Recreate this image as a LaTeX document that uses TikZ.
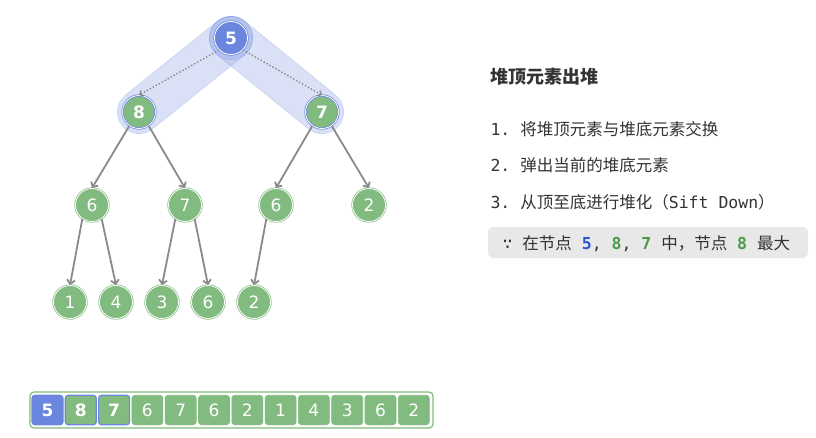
\documentclass[tikz,border=0pt]{standalone}
\usepackage{fontspec}
\setmainfont{DejaVu Sans}
\setmonofont{DejaVu Sans Mono}
\newfontfamily\cjk{Noto Sans CJK SC}
\usetikzlibrary{arrows.meta, backgrounds, math}

\definecolor{heapgreen}{HTML}{82BB7F}
\definecolor{heapblue}{HTML}{6A86DE}
\definecolor{edgegray}{HTML}{8A8A8A}
\definecolor{textgray}{HTML}{333333}
\definecolor{notegray}{HTML}{E8E8E8}
\definecolor{numblue}{HTML}{2F55D4}
\definecolor{numgreen}{HTML}{4E9A4B}

\begin{document}
\begin{tikzpicture}[x=1pt, y=-1pt,
  heap/.style={circle, minimum size=33pt, inner sep=0pt, fill=heapgreen, draw=heapgreen,
    double=white, double distance=0.8pt, line width=0.7pt, text=white,
    font=\fontsize{17}{17}\selectfont},
  picked/.style={heap, draw=heapblue, font=\fontsize{17}{17}\selectfont\bfseries},
  heaptop/.style={picked, fill=heapblue},
  link/.style={draw=edgegray, line width=1.8pt, -{Straight Barb[length=4pt, width=8pt]}},
  cell/.style={rounded corners=3pt, minimum width=31pt, minimum height=29.5pt, inner sep=0pt,
    fill=heapgreen, draw=heapgreen, line width=0.6pt, text=white, font=\fontsize{17}{17}\selectfont},
  cellpick/.style={cell, draw=heapblue, line width=1.2pt, font=\fontsize{17}{17}\selectfont\bfseries},
  celltop/.style={cellpick, fill=heapblue, draw=heapblue},
  band/.style={line width=44pt, line cap=round},
  say/.style={anchor=base west, text=textgray, font=\cjk\fontsize{16.5}{16.5}\selectfont}
]
\tikzmath{
\pitch = 33.3;
\xa = 47.5;
}
\useasboundingbox (0,0) rectangle (816,437);

% the heap as a tree
\node[heaptop] (n5) at (231,38) {5};
\node[picked] (n8) at (139,112) {8};
\node[picked] (n7) at (322,112) {7};
\node[heap] (a6) at (92,205) {6};
\node[heap] (b7) at (185,205) {7};
\node[heap] (c6) at (276,205) {6};
\node[heap] (d2) at (369,205) {2};
\node[heap] (e1) at (70,302) {1};
\node[heap] (f4) at (116,302) {4};
\node[heap] (g3) at (162,302) {3};
\node[heap] (h6) at (208,302) {6};
\node[heap] (i2) at (254,302) {2};

\begin{pgfonlayer}{background}
\begin{scope}[transparency group, opacity=0.34]
\draw[band, heapblue] (n5.center) -- (n8.center);
\draw[band, line width=42pt, heapblue!72!white] (n5.center) -- (n8.center);
\end{scope}
\begin{scope}[transparency group, opacity=0.34]
\draw[band, heapblue] (n5.center) -- (n7.center);
\draw[band, line width=42pt, heapblue!72!white] (n5.center) -- (n7.center);
\end{scope}
\begin{scope}[transparency group, opacity=0.3]
\fill[heapblue] (n5.center) circle (22pt);
\fill[heapblue!72!white] (n5.center) circle (21pt);
\end{scope}
\end{pgfonlayer}

\draw[edgegray, dotted, line width=1.4pt, -{Straight Barb[length=3pt, width=6pt]}] (n5.225) -- (n8.north);
\draw[edgegray, dotted, line width=1.4pt, -{Straight Barb[length=3pt, width=6pt]}] (n5.-45) -- (n7.north);

\draw[link] (n8.235) -- (a6.north);
\draw[link] (n8.-55) -- (b7.north);
\draw[link] (n7.235) -- (c6.north);
\draw[link] (n7.-55) -- (d2.north);
\draw[link] (a6.235) -- (e1.north);
\draw[link] (a6.-55) -- (f4.north);
\draw[link] (b7.235) -- (g3.north);
\draw[link] (b7.-55) -- (h6.north);
\draw[link] (c6.235) -- (i2.north);

% the heap as an array
\draw[heapgreen, line width=1.2pt, fill=white, rounded corners=4pt] (30,392) rectangle (433,428);
\foreach \v/\s [count=\i from 0] in {5/celltop, 8/cellpick, 7/cellpick, 6/cell, 7/cell, 6/cell,
    2/cell, 1/cell, 4/cell, 3/cell, 6/cell, 2/cell}
  \node[\s] (c\i) at (\xa+\pitch*\i, 410) {\v};

% notes
\node[say, font=\cjk\fontsize{18}{18}\selectfont\bfseries] (title) at (487,83) {堆顶元素出堆};
\node[say] (s1) at (487,135) {\texttt{1. }将堆顶元素与堆底元素交换};
\node[say] (s2) at (487,171) {\texttt{2. }弹出当前的堆底元素};
\node[say] (s3) at (487,208) {\texttt{3. }从顶至底进行堆化（\texttt{Sift Down}）};
\fill[notegray, rounded corners=5pt] (488,227) rectangle (808,258);
\node[say] (why) at (499,249) {\texttt{∵ }在节点\texttt{ {\color{numblue}\bfseries 5}, {\color{numgreen}\bfseries 8}, {\color{numgreen}\bfseries 7} }中，节点\texttt{ {\color{numgreen}\bfseries 8} }最大};
\end{tikzpicture}
\end{document}
